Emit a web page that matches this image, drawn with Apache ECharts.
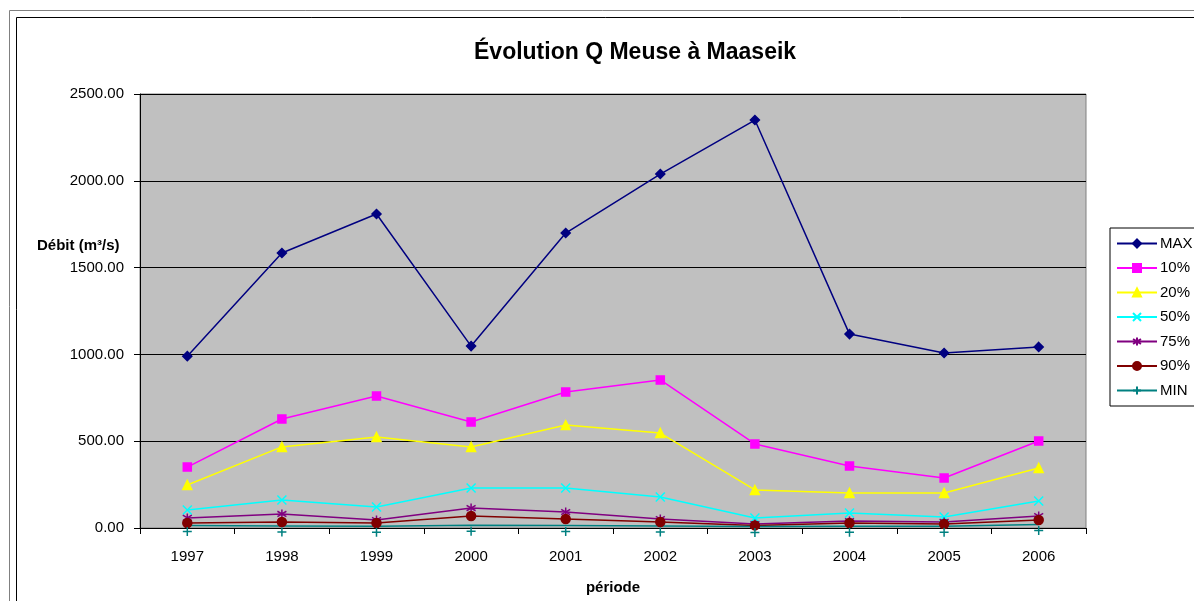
<!DOCTYPE html>
<html>
<head>
<meta charset="utf-8">
<script src="https://cdn.jsdelivr.net/npm/echarts@6/dist/echarts.min.js"></script>
<style>
  html, body { margin: 0; padding: 0; background: #fff; }
  #chart { width: 1194px; height: 601px; }
</style>
</head>
<body>
<div id="chart"></div>
<script>
// data
const years = ['1997', '1998', '1999', '2000', '2001', '2002', '2003', '2004', '2005', '2006'];
const qMax = [990, 1584, 1809, 1048, 1699, 2039, 2350, 1117, 1008, 1043];
const q10 = [351, 628, 760, 611, 783, 853, 484, 357, 288, 501];
const q20 = [248, 467, 524, 467, 593, 547, 219, 202, 202, 346];
const q50 = [104, 161, 121, 230, 230, 179, 58, 86, 63, 156];
const q75 = [58, 81, 46, 115, 92, 52, 23, 40, 35, 69];
const q90 = [29, 35, 29, 69, 52, 35, 15, 29, 23, 46];
const qMin = [14, 12, 10, 16, 14, 12, 8, 10, 10, 20];
const yTicks = [0, 500, 1000, 1500, 2000, 2500];

const crossPath = 'path://M0,0L10,10M10,0L0,10';
const starPath = 'path://M5,0L5,10M0,2L10,8M10,2L0,8';
const plusPath = 'path://M5,0L5,10M0,5L10,5';
const font = 'Liberation Sans, Arial, sans-serif';

function line(name, data, color, symbol, size, extra) {
  return Object.assign({
    name: name,
    type: 'line',
    data: data,
    symbol: symbol,
    symbolSize: size,
    lineStyle: { color: color, width: 1.5 },
    itemStyle: { color: color, borderColor: color, borderWidth: 1.5 },
    emphasis: { disabled: true },
    animation: false
  }, extra || {});
}

const chart = echarts.init(document.getElementById('chart'), null, { renderer: 'canvas' });

chart.setOption({
  backgroundColor: '#fff',
  animation: false,
  textStyle: { fontFamily: font },
  title: {
    text: 'Évolution Q Meuse à Maaseik',
    left: 469,
    top: 36,
    textStyle: { fontSize: 23, fontWeight: 'bold', color: '#000' }
  },
  graphic: [
    { type: 'rect', shape: { x: 9.5, y: 10.5, width: 1200, height: 620 }, style: { fill: null, stroke: '#808080', lineWidth: 1 } },
    { type: 'rect', shape: { x: 16.5, y: 17.5, width: 1200, height: 620 }, style: { fill: null, stroke: '#000', lineWidth: 1 } },
    { type: 'text', left: 37, top: 238, style: { text: 'Débit (m³/s)', font: 'bold 15px ' + font, fill: '#000' } }
  ],
  grid: {
    left: 140, right: 108, top: 94, bottom: 73,
    show: true, backgroundColor: '#c0c0c0', borderColor: '#808080', borderWidth: 1
  },
  legend: {
    orient: 'vertical',
    left: 1110,
    top: 228,
    itemWidth: 40,
    itemHeight: 10,
    itemGap: 9.5,
    padding: [8, 6, 8, 6],
    backgroundColor: '#fff',
    borderColor: '#000',
    borderWidth: 1,
    textStyle: { fontSize: 15, color: '#000', padding: [0, 0, 0, -2] },
    data: ['MAX', '10%', '20%', '50%', '75%', '90%', 'MIN']
  },
  xAxis: {
    type: 'category',
    data: years,
    boundaryGap: true,
    name: 'période',
    nameLocation: 'middle',
    nameGap: 52,
    nameTextStyle: { fontSize: 15, fontWeight: 'bold', color: '#000' },
    axisLine: { show: true, lineStyle: { color: '#000', width: 1 } },
    axisTick: { show: true, alignWithLabel: false, length: 6, lineStyle: { color: '#000' } },
    axisLabel: { fontSize: 15, color: '#000', margin: 21 },
    splitLine: { show: false }
  },
  yAxis: {
    type: 'value',
    min: yTicks[0],
    max: yTicks[yTicks.length - 1],
    interval: 500,
    axisLine: { show: true, lineStyle: { color: '#000', width: 1 } },
    axisTick: { show: true, length: 6, lineStyle: { color: '#000' } },
    axisLabel: { fontSize: 15, color: '#000', margin: 16, formatter: v => v.toFixed(2) },
    splitLine: { show: true, lineStyle: { color: '#000', width: 1 } }
  },
  series: [
    line('MAX', qMax, '#000080', 'diamond', 9),
    line('10%', q10, '#ff00ff', 'rect', 8),
    line('20%', q20, '#ffff00', 'triangle', 9),
    line('50%', q50, '#00ffff', crossPath, 9),
    line('75%', q75, '#800080', starPath, 9),
    line('90%', q90, '#800000', 'circle', 9),
    line('MIN', qMin, '#008080', plusPath, 9, { symbolOffset: [0, 6] })
  ]
});
</script>
</body>
</html>
